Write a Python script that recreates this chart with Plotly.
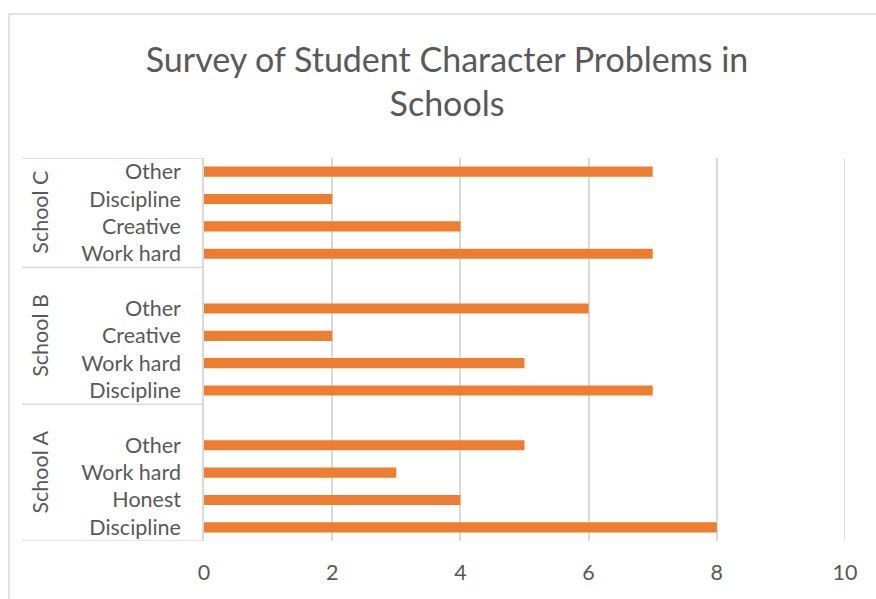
import plotly.graph_objects as go

# ---- data ----
groups = ["School A", "School B", "School C"]
school_a_labels = ["Discipline", "Honest", "Work hard", "Other", ""]
school_a_values = [8, 4, 3, 5, None]
school_b_labels = ["Discipline", "Work hard", "Creative", "Other", ""]
school_b_values = [7, 5, 2, 6, None]
school_c_labels = ["Work hard", "Creative", "Discipline", "Other"]
school_c_values = [7, 4, 2, 7]
x_ticks = [0, 2, 4, 6, 8, 10]
title_text = "Survey of Student Character Problems in<br>Schools"

group_labels = [school_a_labels, school_b_labels, school_c_labels]
group_values = [school_a_values, school_b_values, school_c_values]

ids, texts, vals = [], [], []
for g, labs, vs in zip(groups, group_labels, group_values):
    for i, (l, v) in enumerate(zip(labs, vs)):
        ids.append(f"{g}|{i}|{l}")
        texts.append(l)
        vals.append(v)

FONT = "Lato, 'Open Sans', sans-serif"
GREY = "#595959"
LINE = "#d9d9d9"
TICK_SIZE = 21.5

fig = go.Figure(go.Bar(
    x=vals, y=ids, orientation="h",
    marker=dict(color="#ED7D31", line=dict(width=0)),
    width=0.37,
))

W, H = 876, 599
ml, mr, mt, mb = 204, 31, 158, 58
pw = W - ml - mr
ph = H - mt - mb

def px_x(px):
    return (px - ml) / pw

def px_y(py):
    return (H - mb - py) / ph

shapes = []
# group separators
boundaries = [-0.5]
count = 0
for labs in group_labels:
    count += len(labs)
    boundaries.append(count - 0.5)
for b in boundaries:
    shapes.append(dict(type="line", xref="paper", yref="y",
                       x0=px_x(22), x1=0, y0=b, y1=b,
                       line=dict(color=LINE, width=1.5)))
# gridline at the right edge of the value axis
shapes.append(dict(type="line", xref="x", yref="paper",
                   x0=x_ticks[-1], x1=x_ticks[-1], y0=0, y1=1,
                   line=dict(color=LINE, width=1.5), layer="below"))
# chart border
shapes.append(dict(type="rect", xref="paper", yref="paper",
                   x0=px_x(9), x1=px_x(900), y0=px_y(14), y1=px_y(620),
                   line=dict(color=LINE, width=1.5), fillcolor="rgba(0,0,0,0)",
                   layer="below"))

annotations = []
start = 0
for g, labs in zip(groups, group_labels):
    mid = start + (len(labs) - 1) / 2
    start += len(labs)
    annotations.append(dict(text=g, xref="paper", yref="y", x=px_x(40), y=mid,
                            showarrow=False, textangle=-90,
                            font=dict(family=FONT, size=TICK_SIZE, color=GREY),
                            xanchor="center", yanchor="middle"))

fig.update_layout(
    width=W, height=H,
    margin=dict(l=ml, r=mr, t=mt, b=mb),
    paper_bgcolor="white", plot_bgcolor="white",
    title=dict(text=title_text, x=447 / W, xref="container", xanchor="center",
               y=1 - 72 / H, yref="container", yanchor="middle",
               font=dict(family=FONT, size=34, color=GREY)),
    showlegend=False,
    bargap=0.6,
    xaxis=dict(range=[0, 10], tickvals=x_ticks, showgrid=True, gridcolor=LINE,
               gridwidth=1.5, zeroline=False, showline=False,
               tickfont=dict(family=FONT, size=TICK_SIZE, color=GREY),
               ticks="", ticklabelstandoff=16, fixedrange=True),
    yaxis=dict(type="category", categoryorder="array", categoryarray=ids,
               tickvals=ids, ticktext=texts, range=[-0.5, len(ids) - 0.5],
               showline=True, linecolor=LINE, linewidth=1.5, showgrid=False,
               ticks="", ticklabelstandoff=17,
               tickfont=dict(family=FONT, size=TICK_SIZE, color=GREY)),
    shapes=shapes,
    annotations=annotations,
)

fig.write_html("out.html")
